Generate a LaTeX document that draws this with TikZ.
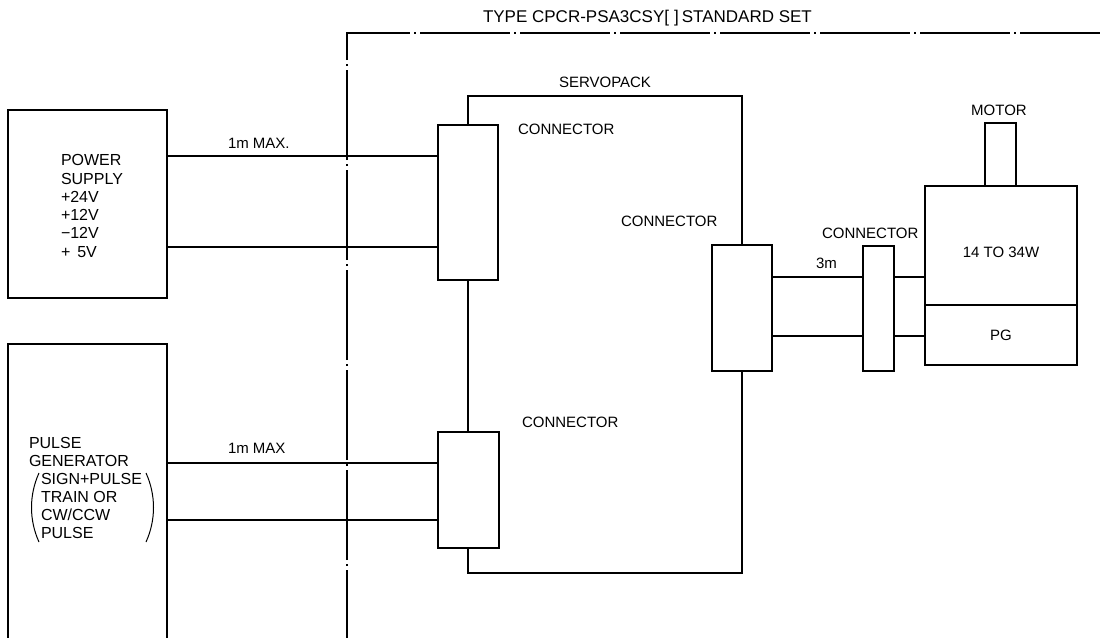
\documentclass[tikz,border=0pt]{standalone}
\usepackage{fontspec}
\setmainfont{Liberation Sans}
\begin{document}
\begin{tikzpicture}[x=1pt,y=-1pt,line width=2pt,
  box/.style={draw,fill=white,rectangle,inner sep=0pt,outer sep=0pt},
  lbl/.style={anchor=base west,inner sep=0pt,font=\fontsize{15}{18}\selectfont},
  blbl/.style={anchor=base west,inner sep=0pt,font=\fontsize{16}{18}\selectfont},
  clbl/.style={anchor=base,inner sep=0pt,font=\fontsize{15}{18}\selectfont},
  wire/.style={line width=2pt},
  frame/.style={line width=1.7pt,dash pattern=on 90pt off 4pt on 2pt off 4pt},
  paren/.style={line width=1pt}]
\useasboundingbox (0,0) rectangle (1100,637);
\clip (0,0) rectangle (1100,637);

% standard set frame
\draw[frame] (347,660) -- (347,33) -- (1120,33);
\node[lbl,font=\fontsize{17}{18}\selectfont] (title) at (482,22) {TYPE CPCR-PSA3CSY[\hspace{5pt}]\hspace{3pt}STANDARD SET};

% left boxes
\node[box,minimum width=159pt,minimum height=188pt] (ps) at (87.5,204) {};
\node[box,minimum width=159pt,minimum height=316pt] (pgen) at (87.5,502) {};

% servopack
\node[box,minimum width=274pt,minimum height=477pt] (sp) at (605,334.5) {};
\node[clbl] (splbl) at (605,87) {SERVOPACK};

% connectors
\node[box,minimum width=60pt,minimum height=155pt] (c1) at (468,202.5) {};
\node[box,minimum width=61pt,minimum height=116pt] (c2) at (468.5,490) {};
\node[box,minimum width=60pt,minimum height=126pt] (c3) at (742,308) {};
\node[box,minimum width=31pt,minimum height=125pt] (c4) at (878.5,308.5) {};

% motor
\node[box,minimum width=31pt,minimum height=63pt] (shaft) at (1000.5,154.5) {};
\node[box,minimum width=152pt,minimum height=119pt] (mot) at (1001,245.5) {};
\node[box,minimum width=152pt,minimum height=60pt,font=\fontsize{15}{18}\selectfont] (pgb) at (1001,335) {PG};

% wires
\draw[wire] (ps.east |- 0,156) -- (c1.west |- 0,156);
\draw[wire] (ps.east |- 0,247) -- (c1.west |- 0,247);
\draw[wire] (pgen.east |- 0,463) -- (c2.west |- 0,463);
\draw[wire] (pgen.east |- 0,520) -- (c2.west |- 0,520);
\draw[wire] (c3.east |- 0,277) -- (c4.west |- 0,277);
\draw[wire] (c3.east |- 0,336) -- (c4.west |- 0,336);
\draw[wire] (c4.east |- 0,277) -- (mot.west |- 0,277);
\draw[wire] (c4.east |- 0,336) -- (pgb.west |- 0,336);

% labels
\node[lbl] (l1) at (227,148) {1m MAX.};
\node[lbl] (l2) at (227,453) {1m MAX};
\node[lbl] (cl1) at (517,134) {CONNECTOR};
\node[lbl] (cl2) at (620,226) {CONNECTOR};
\node[lbl] (cl3) at (521,427) {CONNECTOR};
\node[lbl] (cl4) at (821,238) {CONNECTOR};
\node[lbl] (l3) at (815,268) {3m};
\node[clbl] (mlbl) at (999,115) {MOTOR};
\node[clbl] (wlbl) at (1001,257) {14 TO 34W};

% power supply text
\node[blbl] (p1) at (60,165) {POWER};
\node[blbl] (p2) at (60,184) {SUPPLY};
\node[blbl] (p3) at (60,202) {+24V};
\node[blbl] (p4) at (60,220) {+12V};
\node[blbl] (p5) at (60,238) {−12V};
\node[blbl] (p6) at (60,257) {+\hspace{7pt}5V};

% pulse generator text
\node[blbl] (g1) at (28,448) {PULSE};
\node[blbl] (g2) at (28,466) {GENERATOR};
\node[blbl] (g3) at (40,484) {SIGN+PULSE};
\node[blbl] (g4) at (40,502) {TRAIN OR};
\node[blbl] (g5) at (40,520) {CW/CCW};
\node[blbl] (g6) at (40,538) {PULSE};
\draw[paren] (39,473) .. controls (29,495) and (29,520) .. (39,542);
\draw[paren] (146,473) .. controls (156,495) and (156,520) .. (146,542);
\end{tikzpicture}
\end{document}
